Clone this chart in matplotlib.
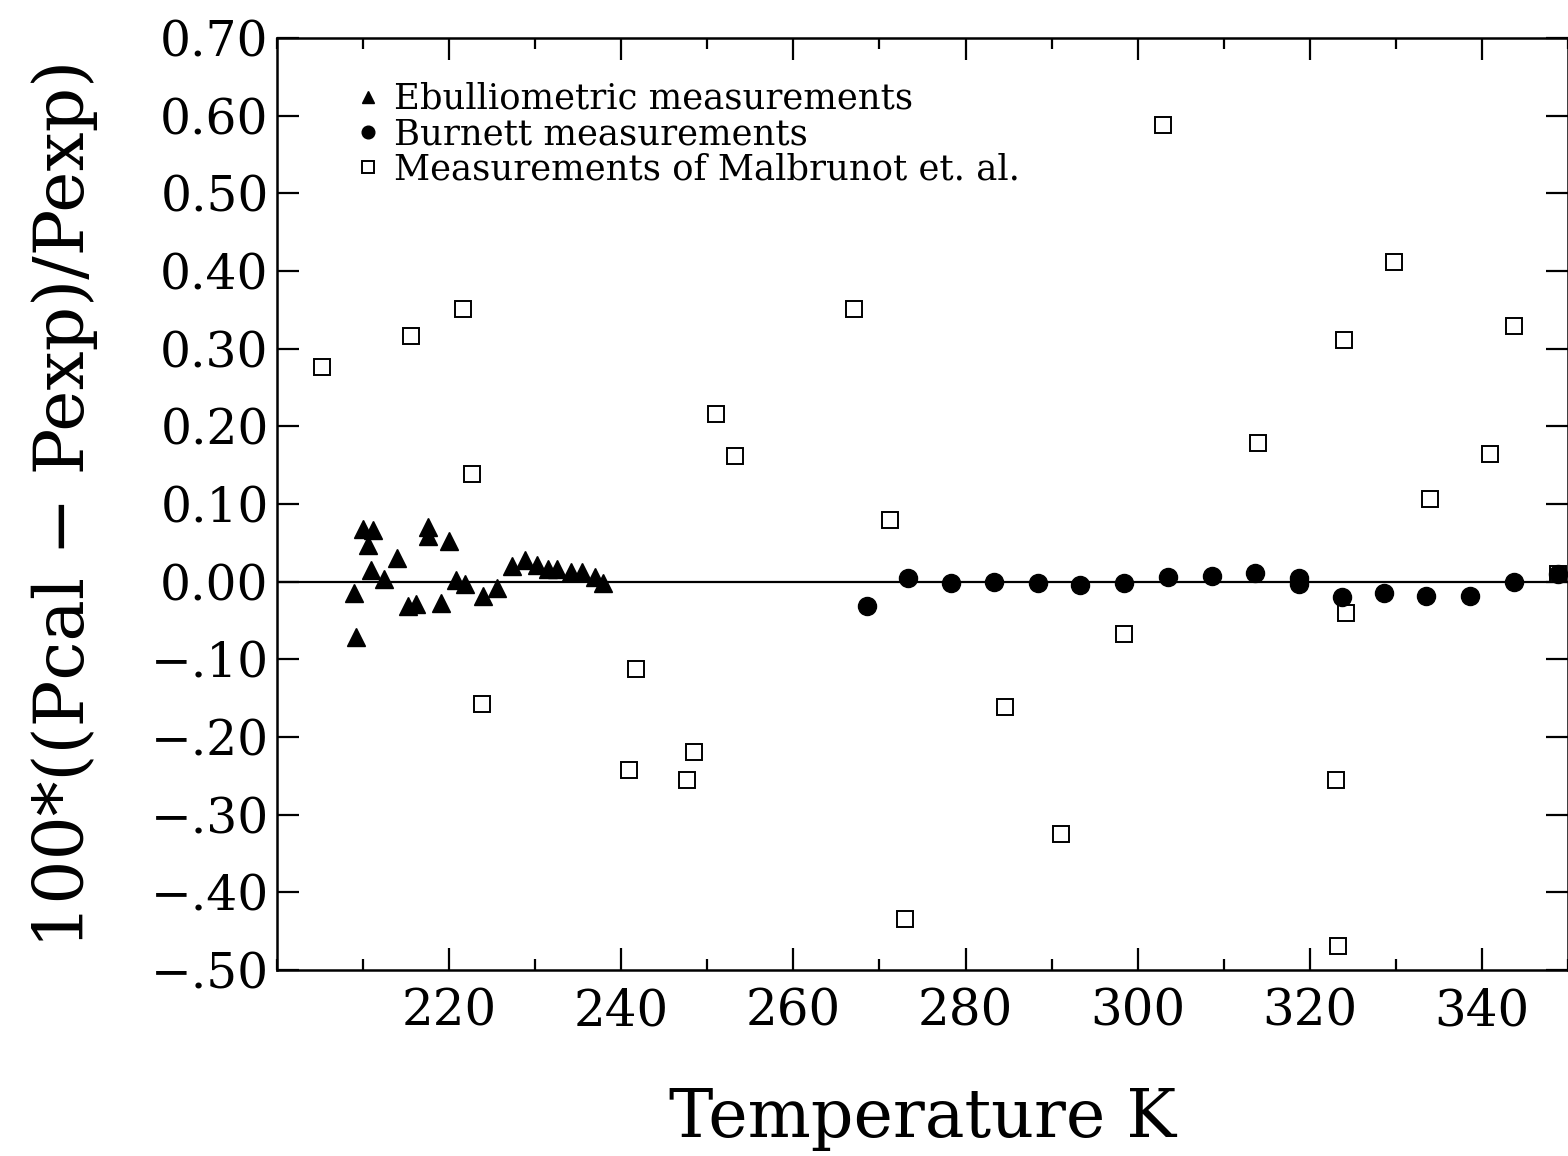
import matplotlib.pyplot as plt
from matplotlib.ticker import MultipleLocator, FixedLocator

# ebulliometric points
ebul_T = [208.9, 209.2, 210.0, 211.1, 210.6, 210.9, 212.4, 214.0, 215.2, 216.2,
          217.6, 217.6, 219.0, 220.0, 220.8, 221.9, 223.9, 225.6, 227.3, 228.8,
          230.2, 231.5, 232.5, 234.2, 235.4, 236.9, 237.9]
ebul_dev = [-0.014, -0.071, 0.068, 0.066, 0.047, 0.015, 0.003, 0.031, -0.031, -0.029,
            0.059, 0.070, -0.028, 0.052, 0.002, -0.003, -0.019, -0.008, 0.020, 0.028,
            0.021, 0.016, 0.016, 0.012, 0.013, 0.006, -0.002]

# Burnett points
burn_T = [268.6, 273.3, 278.3, 283.3, 288.4, 293.3, 298.4, 303.5, 308.6, 313.6,
          318.7, 318.7, 323.7, 328.6, 333.5, 338.6, 343.7, 348.8]
burn_dev = [-0.031, 0.005, -0.002, -0.001, -0.002, -0.004, -0.002, 0.006, 0.007, 0.011,
            0.005, -0.003, -0.020, -0.015, -0.019, -0.018, -0.001, 0.010]

# Malbrunot et al.
malb_T = [205.2, 215.6, 221.6, 222.7, 223.8, 240.9, 241.7, 247.6, 248.5, 251.0,
          253.2, 267.0, 271.2, 273.0, 284.6, 291.1, 298.4, 302.9, 314.0, 323.0,
          323.3, 324.0, 324.2, 329.8, 334.0, 340.9, 343.7, 348.8]
malb_dev = [0.277, 0.316, 0.351, 0.138, -0.157, -0.242, -0.112, -0.255, -0.219, 0.216,
            0.162, 0.351, 0.079, -0.434, -0.161, -0.325, -0.068, 0.588, 0.179, -0.255,
            -0.469, 0.311, -0.040, 0.412, 0.107, 0.164, 0.329, 0.010]

yticks = [0.70, 0.60, 0.50, 0.40, 0.30, 0.20, 0.10, 0.00, -0.10, -0.20, -0.30, -0.40, -0.50]
ylabels = ['0.70', '0.60', '0.50', '0.40', '0.30', '0.20', '0.10', '0.00',
           '\u2212.10', '\u2212.20', '\u2212.30', '\u2212.40', '\u2212.50']

plt.rcParams['font.family'] = ['DejaVu Serif']

fig = plt.figure(figsize=(15.68, 11.56), dpi=100)
ax = fig.add_axes([277 / 1568, 1 - 970 / 1156, 1291 / 1568, 932 / 1156])

ax.axhline(0, color='black', lw=1.6, zorder=1)
ax.plot(malb_T, malb_dev, 's', ms=12, mfc='white', mec='black', mew=1.4,
        label='Measurements of Malbrunot et. al.', zorder=2)
ax.plot(burn_T, burn_dev, 'o', ms=13, color='black',
        label='Burnett measurements', zorder=3)
ax.plot(ebul_T, ebul_dev, '^', ms=13, color='black',
        label='Ebulliometric measurements', zorder=3)

ax.set_xlim(200, 350)
ax.set_ylim(-0.50, 0.70)
ax.xaxis.set_major_locator(FixedLocator([220, 240, 260, 280, 300, 320, 340]))
ax.xaxis.set_minor_locator(MultipleLocator(10))
ax.set_yticks(yticks)
ax.set_yticklabels(ylabels)

for s in ax.spines.values():
    s.set_linewidth(1.8)
ax.tick_params(which='both', direction='in', top=True, right=True, width=1.6)
ax.tick_params(which='major', length=16)
ax.tick_params(which='minor', length=8)
ax.tick_params(axis='x', labelsize=36, pad=12)
ax.tick_params(axis='y', labelsize=35, pad=6)

ax.set_xlabel('Temperature K', fontsize=48, labelpad=36)
ax.set_ylabel('100*((Pcal \u2212 Pexp)/Pexp)', fontsize=50, labelpad=38)

h, l = ax.get_legend_handles_labels()
ax.legend(h[::-1], l[::-1], loc='upper left', bbox_to_anchor=(0.051, 0.968),
          frameon=False, fontsize=25.5, markerscale=0.7, handlelength=0.6,
          handletextpad=0.45, labelspacing=0.03, borderaxespad=0)

fig.savefig('out.png', dpi=100)
